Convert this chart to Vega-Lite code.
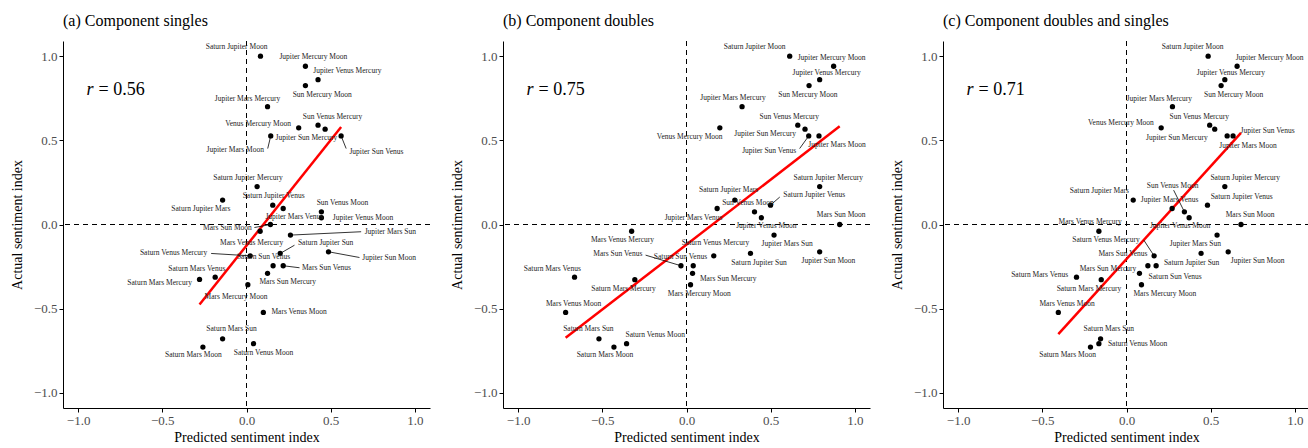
{
  "$schema": "https://vega.github.io/schema/vega-lite/v6.json",
  "background": "white",
  "padding": {"left": 10, "top": 12, "right": 0, "bottom": 0},
  "config": {
    "font": "Liberation Serif",
    "view": {"stroke": null},
    "concat": {"spacing": 19},
    "axis": {"grid": false, "domainColor": "black", "domainWidth": 1, "tickColor": "black", "tickWidth": 1, "tickSize": 4, "labelFont": "Liberation Serif", "labelFontSize": 13, "labelColor": "#4d4d4d", "labelPadding": 2, "titleFont": "Liberation Serif", "titleFontSize": 14, "titleFontWeight": "normal", "titleColor": "black"},
    "axisX": {"titlePadding": 3},
    "axisY": {"titlePadding": 9},
    "title": {"anchor": "start", "frame": "group", "font": "Liberation Serif", "fontSize": 16, "fontWeight": "normal", "color": "black", "offset": 12}
  },
  "datasets": {
    "stats": [{"p": "a", "rv": "= 0.56"}, {"p": "b", "rv": "= 0.75"}, {"p": "c", "rv": "= 0.71"}],
    "pts": [
      {"p": "a", "name": "Saturn Jupiter Moon", "pred": 0.083, "actual": 1.0, "lx": -0.059, "ly": 1.055},
      {"p": "a", "name": "Jupiter Mercury Moon", "pred": 0.35, "actual": 0.94, "lx": 0.397, "ly": 0.995},
      {"p": "a", "name": "Jupiter Venus Mercury", "pred": 0.425, "actual": 0.86, "lx": 0.599, "ly": 0.91},
      {"p": "a", "name": "Sun Mercury Moon", "pred": 0.35, "actual": 0.825, "lx": 0.45, "ly": 0.772},
      {"p": "a", "name": "Jupiter Mars Mercury", "pred": 0.125, "actual": 0.7, "lx": 0.006, "ly": 0.746},
      {"p": "a", "name": "Venus Mercury Moon", "pred": 0.31, "actual": 0.574, "lx": 0.069, "ly": 0.595},
      {"p": "a", "name": "Sun Venus Mercury", "pred": 0.425, "actual": 0.59, "lx": 0.511, "ly": 0.639},
      {"p": "a", "name": "Jupiter Sun Mercury", "pred": 0.467, "actual": 0.566, "lx": 0.356, "ly": 0.515},
      {"p": "a", "name": "Jupiter Mars Moon", "pred": 0.144, "actual": 0.526, "lx": -0.067, "ly": 0.445, "sx": 0.126, "sy": 0.451},
      {"p": "a", "name": "Jupiter Sun Venus", "pred": 0.562, "actual": 0.526, "lx": 0.772, "ly": 0.431, "sx": 0.592, "sy": 0.451},
      {"p": "a", "name": "Saturn Jupiter Mercury", "pred": 0.063, "actual": 0.225, "lx": 0.009, "ly": 0.277},
      {"p": "a", "name": "Saturn Jupiter Mars", "pred": -0.142, "actual": 0.145, "lx": -0.271, "ly": 0.093},
      {"p": "a", "name": "Saturn Jupiter Venus", "pred": 0.156, "actual": 0.115, "lx": 0.161, "ly": 0.168},
      {"p": "a", "name": "Jupiter Mars Venus", "pred": 0.218, "actual": 0.095, "lx": 0.284, "ly": 0.043},
      {"p": "a", "name": "Sun Venus Moon", "pred": 0.445, "actual": 0.075, "lx": 0.57, "ly": 0.129},
      {"p": "a", "name": "Jupiter Venus Moon", "pred": 0.445, "actual": 0.04, "lx": 0.692, "ly": 0.04},
      {"p": "a", "name": "Mars Sun Moon", "pred": 0.142, "actual": 0.0, "lx": -0.113, "ly": -0.02, "sx": 0.047, "sy": -0.018},
      {"p": "a", "name": "Mars Venus Mercury", "pred": 0.081, "actual": -0.04, "lx": 0.03, "ly": -0.109},
      {"p": "a", "name": "Jupiter Mars Sun", "pred": 0.261, "actual": -0.063, "lx": 0.854, "ly": -0.043, "sx": 0.681, "sy": -0.043},
      {"p": "a", "name": "Saturn Jupiter Sun", "pred": 0.2, "actual": -0.172, "lx": 0.47, "ly": -0.109, "sx": 0.285, "sy": -0.123},
      {"p": "a", "name": "Jupiter Sun Moon", "pred": 0.487, "actual": -0.162, "lx": 0.847, "ly": -0.198, "sx": 0.671, "sy": -0.196},
      {"p": "a", "name": "Saturn Venus Mercury", "pred": 0.022, "actual": -0.186, "lx": -0.433, "ly": -0.172, "sx": -0.21, "sy": -0.172},
      {"p": "a", "name": "Saturn Sun Venus", "pred": 0.158, "actual": -0.245, "lx": 0.101, "ly": -0.192},
      {"p": "a", "name": "Mars Sun Venus", "pred": 0.218, "actual": -0.245, "lx": 0.475, "ly": -0.257, "sx": 0.315, "sy": -0.257},
      {"p": "a", "name": "Mars Sun Mercury", "pred": 0.125, "actual": -0.29, "lx": 0.245, "ly": -0.34},
      {"p": "a", "name": "Mars Mercury Moon", "pred": 0.008, "actual": -0.358, "lx": -0.062, "ly": -0.429},
      {"p": "a", "name": "Mars Venus Moon", "pred": 0.1, "actual": -0.522, "lx": 0.312, "ly": -0.52},
      {"p": "a", "name": "Saturn Mars Sun", "pred": -0.142, "actual": -0.679, "lx": -0.089, "ly": -0.623},
      {"p": "a", "name": "Saturn Mars Moon", "pred": -0.259, "actual": -0.728, "lx": -0.316, "ly": -0.777},
      {"p": "a", "name": "Saturn Venus Moon", "pred": 0.042, "actual": -0.708, "lx": 0.101, "ly": -0.761},
      {"p": "a", "name": "Saturn Mars Venus", "pred": -0.186, "actual": -0.313, "lx": -0.295, "ly": -0.263},
      {"p": "a", "name": "Saturn Mars Mercury", "pred": -0.279, "actual": -0.326, "lx": -0.516, "ly": -0.346},

      {"p": "b", "name": "Saturn Jupiter Moon", "pred": 0.613, "actual": 1.0, "lx": 0.405, "ly": 1.055},
      {"p": "b", "name": "Jupiter Mercury Moon", "pred": 0.874, "actual": 0.94, "lx": 0.862, "ly": 0.989},
      {"p": "b", "name": "Jupiter Venus Mercury", "pred": 0.791, "actual": 0.86, "lx": 0.832, "ly": 0.9},
      {"p": "b", "name": "Sun Mercury Moon", "pred": 0.728, "actual": 0.825, "lx": 0.721, "ly": 0.772},
      {"p": "b", "name": "Jupiter Mars Mercury", "pred": 0.33, "actual": 0.7, "lx": 0.276, "ly": 0.752},
      {"p": "b", "name": "Venus Mercury Moon", "pred": 0.198, "actual": 0.574, "lx": 0.019, "ly": 0.52},
      {"p": "b", "name": "Sun Venus Mercury", "pred": 0.661, "actual": 0.59, "lx": 0.61, "ly": 0.639},
      {"p": "b", "name": "Jupiter Sun Mercury", "pred": 0.704, "actual": 0.566, "lx": 0.467, "ly": 0.536},
      {"p": "b", "name": "Jupiter Sun Venus", "pred": 0.726, "actual": 0.526, "lx": 0.491, "ly": 0.437, "sx": 0.672, "sy": 0.451},
      {"p": "b", "name": "Jupiter Mars Moon", "pred": 0.787, "actual": 0.526, "lx": 0.894, "ly": 0.471},
      {"p": "b", "name": "Saturn Jupiter Mercury", "pred": 0.791, "actual": 0.225, "lx": 0.842, "ly": 0.277},
      {"p": "b", "name": "Saturn Jupiter Mars", "pred": 0.287, "actual": 0.145, "lx": 0.25, "ly": 0.204},
      {"p": "b", "name": "Saturn Jupiter Venus", "pred": 0.499, "actual": 0.115, "lx": 0.759, "ly": 0.174, "sx": 0.554, "sy": 0.163},
      {"p": "b", "name": "Jupiter Mars Venus", "pred": 0.182, "actual": 0.095, "lx": 0.042, "ly": 0.036},
      {"p": "b", "name": "Sun Venus Moon", "pred": 0.404, "actual": 0.075, "lx": 0.365, "ly": 0.125},
      {"p": "b", "name": "Jupiter Venus Moon", "pred": 0.445, "actual": 0.04, "lx": 0.474, "ly": -0.008},
      {"p": "b", "name": "Mars Sun Moon", "pred": 0.91, "actual": 0.0, "lx": 0.919, "ly": 0.059},
      {"p": "b", "name": "Mars Venus Mercury", "pred": -0.326, "actual": -0.04, "lx": -0.38, "ly": -0.093},
      {"p": "b", "name": "Jupiter Mars Sun", "pred": 0.52, "actual": -0.063, "lx": 0.598, "ly": -0.113},
      {"p": "b", "name": "Jupiter Sun Moon", "pred": 0.791, "actual": -0.162, "lx": 0.843, "ly": -0.216},
      {"p": "b", "name": "Saturn Jupiter Sun", "pred": 0.38, "actual": -0.172, "lx": 0.431, "ly": -0.226},
      {"p": "b", "name": "Saturn Venus Mercury", "pred": 0.162, "actual": -0.186, "lx": 0.172, "ly": -0.109},
      {"p": "b", "name": "Mars Sun Venus", "pred": -0.033, "actual": -0.245, "lx": -0.408, "ly": -0.178, "sx": -0.243, "sy": -0.182},
      {"p": "b", "name": "Saturn Sun Venus", "pred": 0.04, "actual": -0.245, "lx": -0.036, "ly": -0.192},
      {"p": "b", "name": "Mars Sun Mercury", "pred": 0.036, "actual": -0.29, "lx": 0.248, "ly": -0.322},
      {"p": "b", "name": "Mars Mercury Moon", "pred": 0.024, "actual": -0.358, "lx": 0.076, "ly": -0.413},
      {"p": "b", "name": "Saturn Mars Venus", "pred": -0.665, "actual": -0.313, "lx": -0.797, "ly": -0.263},
      {"p": "b", "name": "Saturn Mars Mercury", "pred": -0.307, "actual": -0.328, "lx": -0.374, "ly": -0.382},
      {"p": "b", "name": "Mars Venus Moon", "pred": -0.718, "actual": -0.522, "lx": -0.671, "ly": -0.471},
      {"p": "b", "name": "Saturn Mars Sun", "pred": -0.52, "actual": -0.679, "lx": -0.583, "ly": -0.623},
      {"p": "b", "name": "Saturn Mars Moon", "pred": -0.431, "actual": -0.728, "lx": -0.484, "ly": -0.777},
      {"p": "b", "name": "Saturn Venus Moon", "pred": -0.356, "actual": -0.708, "lx": -0.186, "ly": -0.659},

      {"p": "c", "name": "Saturn Jupiter Moon", "pred": 0.485, "actual": 1.0, "lx": 0.393, "ly": 1.055},
      {"p": "c", "name": "Jupiter Mercury Moon", "pred": 0.657, "actual": 0.94, "lx": 0.85, "ly": 0.989},
      {"p": "c", "name": "Jupiter Venus Mercury", "pred": 0.584, "actual": 0.86, "lx": 0.62, "ly": 0.9},
      {"p": "c", "name": "Sun Mercury Moon", "pred": 0.562, "actual": 0.825, "lx": 0.636, "ly": 0.772},
      {"p": "c", "name": "Jupiter Mars Mercury", "pred": 0.273, "actual": 0.7, "lx": 0.195, "ly": 0.746},
      {"p": "c", "name": "Venus Mercury Moon", "pred": 0.206, "actual": 0.574, "lx": -0.033, "ly": 0.604},
      {"p": "c", "name": "Sun Venus Mercury", "pred": 0.494, "actual": 0.59, "lx": 0.432, "ly": 0.639},
      {"p": "c", "name": "Jupiter Sun Mercury", "pred": 0.524, "actual": 0.566, "lx": 0.299, "ly": 0.515},
      {"p": "c", "name": "Jupiter Sun Venus", "pred": 0.633, "actual": 0.526, "lx": 0.838, "ly": 0.558},
      {"p": "c", "name": "Jupiter Mars Moon", "pred": 0.598, "actual": 0.526, "lx": 0.722, "ly": 0.467},
      {"p": "c", "name": "Saturn Jupiter Mercury", "pred": 0.584, "actual": 0.225, "lx": 0.705, "ly": 0.277},
      {"p": "c", "name": "Saturn Jupiter Mars", "pred": 0.04, "actual": 0.145, "lx": -0.161, "ly": 0.2},
      {"p": "c", "name": "Saturn Jupiter Venus", "pred": 0.481, "actual": 0.115, "lx": 0.684, "ly": 0.164},
      {"p": "c", "name": "Jupiter Mars Venus", "pred": 0.271, "actual": 0.095, "lx": 0.256, "ly": 0.145},
      {"p": "c", "name": "Sun Venus Moon", "pred": 0.344, "actual": 0.075, "lx": 0.274, "ly": 0.23, "sx": 0.28, "sy": 0.204},
      {"p": "c", "name": "Jupiter Venus Moon", "pred": 0.372, "actual": 0.04, "lx": 0.318, "ly": -0.008},
      {"p": "c", "name": "Mars Sun Moon", "pred": 0.68, "actual": 0.0, "lx": 0.734, "ly": 0.055},
      {"p": "c", "name": "Mars Venus Mercury", "pred": -0.164, "actual": -0.04, "lx": -0.216, "ly": 0.012},
      {"p": "c", "name": "Jupiter Mars Sun", "pred": 0.538, "actual": -0.063, "lx": 0.409, "ly": -0.113},
      {"p": "c", "name": "Jupiter Sun Moon", "pred": 0.604, "actual": -0.162, "lx": 0.779, "ly": -0.216},
      {"p": "c", "name": "Saturn Jupiter Sun", "pred": 0.443, "actual": -0.172, "lx": 0.387, "ly": -0.226},
      {"p": "c", "name": "Saturn Venus Mercury", "pred": 0.164, "actual": -0.186, "lx": -0.122, "ly": -0.093, "sx": 0.103, "sy": -0.093},
      {"p": "c", "name": "Mars Sun Venus", "pred": 0.127, "actual": -0.245, "lx": -0.021, "ly": -0.178},
      {"p": "c", "name": "Saturn Sun Venus", "pred": 0.176, "actual": -0.245, "lx": 0.289, "ly": -0.313},
      {"p": "c", "name": "Mars Sun Mercury", "pred": 0.077, "actual": -0.29, "lx": -0.11, "ly": -0.267},
      {"p": "c", "name": "Mars Mercury Moon", "pred": 0.089, "actual": -0.358, "lx": 0.228, "ly": -0.413},
      {"p": "c", "name": "Saturn Mars Venus", "pred": -0.297, "actual": -0.313, "lx": -0.516, "ly": -0.299},
      {"p": "c", "name": "Saturn Mars Mercury", "pred": -0.15, "actual": -0.328, "lx": -0.223, "ly": -0.382},
      {"p": "c", "name": "Mars Venus Moon", "pred": -0.405, "actual": -0.522, "lx": -0.353, "ly": -0.471},
      {"p": "c", "name": "Saturn Mars Sun", "pred": -0.154, "actual": -0.679, "lx": -0.105, "ly": -0.623},
      {"p": "c", "name": "Saturn Mars Moon", "pred": -0.214, "actual": -0.728, "lx": -0.35, "ly": -0.777},
      {"p": "c", "name": "Saturn Venus Moon", "pred": -0.164, "actual": -0.708, "lx": 0.066, "ly": -0.712}
    ]
  },
  "hconcat": [
    {
      "width": 367, "height": 367,
      "title": {"text": "(a) Component singles"},
      "layer": [
        {"data": {"values": [{}]}, "mark": {"type": "rule", "color": "black", "strokeWidth": 1, "strokeDash": [5, 4]}, "encoding": {"x": {"datum": 0, "type": "quantitative"}}},
        {"data": {"values": [{}]}, "mark": {"type": "rule", "color": "black", "strokeWidth": 1, "strokeDash": [5, 4]}, "encoding": {"y": {"datum": 0, "type": "quantitative"}}},
        {"data": {"name": "pts"}, "transform": [{"filter": "datum.p === 'a'"}, {"regression": "actual", "on": "pred"}], "mark": {"type": "line", "color": "#ff0000", "strokeWidth": 2.5}, "encoding": {"x": {"field": "pred", "type": "quantitative"}, "y": {"field": "actual", "type": "quantitative"}}},
        {"data": {"name": "pts"}, "transform": [{"filter": "datum.p === 'a' && isValid(datum.sx)"}], "mark": {"type": "rule", "color": "black", "strokeWidth": 0.8}, "encoding": {"x": {"field": "pred", "type": "quantitative"}, "y": {"field": "actual", "type": "quantitative"}, "x2": {"field": "sx"}, "y2": {"field": "sy"}}},
        {"data": {"name": "pts"}, "transform": [{"filter": "datum.p === 'a'"}], "mark": {"type": "circle", "color": "black", "opacity": 1, "size": 28}, "encoding": {
          "x": {"field": "pred", "type": "quantitative", "scale": {"domain": [-1.09, 1.09], "nice": false, "zero": false}, "axis": {"title": "Predicted sentiment index", "values": [-1, -0.5, 0, 0.5, 1], "format": ".1f"}},
          "y": {"field": "actual", "type": "quantitative", "scale": {"domain": [-1.09, 1.09], "nice": false, "zero": false}, "axis": {"title": "Actual sentiment index", "values": [-1, -0.5, 0, 0.5, 1], "format": ".1f"}}}},
        {"data": {"name": "pts"}, "transform": [{"filter": "datum.p === 'a'"}], "mark": {"type": "text", "fontSize": 7.5, "color": "#222222", "font": "Liberation Serif"}, "encoding": {"x": {"field": "lx", "type": "quantitative"}, "y": {"field": "ly", "type": "quantitative"}, "text": {"field": "name"}}},
        {"data": {"name": "stats"}, "transform": [{"filter": "datum.p === 'a'"}], "mark": {"type": "text", "align": "left", "fontSize": 18, "fontStyle": "italic", "color": "black", "font": "Liberation Serif"}, "encoding": {"x": {"datum": -0.95, "type": "quantitative"}, "y": {"datum": 0.8, "type": "quantitative"}, "text": {"value": "r"}}},
        {"data": {"name": "stats"}, "transform": [{"filter": "datum.p === 'a'"}], "mark": {"type": "text", "align": "left", "dx": 12, "fontSize": 18, "color": "black", "font": "Liberation Serif"}, "encoding": {"x": {"datum": -0.95, "type": "quantitative"}, "y": {"datum": 0.8, "type": "quantitative"}, "text": {"field": "rv"}}}
      ]
    },
    {
      "width": 367, "height": 367,
      "title": {"text": "(b) Component doubles"},
      "layer": [
        {"data": {"values": [{}]}, "mark": {"type": "rule", "color": "black", "strokeWidth": 1, "strokeDash": [5, 4]}, "encoding": {"x": {"datum": 0, "type": "quantitative"}}},
        {"data": {"values": [{}]}, "mark": {"type": "rule", "color": "black", "strokeWidth": 1, "strokeDash": [5, 4]}, "encoding": {"y": {"datum": 0, "type": "quantitative"}}},
        {"data": {"name": "pts"}, "transform": [{"filter": "datum.p === 'b'"}, {"regression": "actual", "on": "pred"}], "mark": {"type": "line", "color": "#ff0000", "strokeWidth": 2.5}, "encoding": {"x": {"field": "pred", "type": "quantitative"}, "y": {"field": "actual", "type": "quantitative"}}},
        {"data": {"name": "pts"}, "transform": [{"filter": "datum.p === 'b' && isValid(datum.sx)"}], "mark": {"type": "rule", "color": "black", "strokeWidth": 0.8}, "encoding": {"x": {"field": "pred", "type": "quantitative"}, "y": {"field": "actual", "type": "quantitative"}, "x2": {"field": "sx"}, "y2": {"field": "sy"}}},
        {"data": {"name": "pts"}, "transform": [{"filter": "datum.p === 'b'"}], "mark": {"type": "circle", "color": "black", "opacity": 1, "size": 28}, "encoding": {
          "x": {"field": "pred", "type": "quantitative", "scale": {"domain": [-1.09, 1.09], "nice": false, "zero": false}, "axis": {"title": "Predicted sentiment index", "values": [-1, -0.5, 0, 0.5, 1], "format": ".1f"}},
          "y": {"field": "actual", "type": "quantitative", "scale": {"domain": [-1.09, 1.09], "nice": false, "zero": false}, "axis": {"title": "Actual sentiment index", "values": [-1, -0.5, 0, 0.5, 1], "format": ".1f"}}}},
        {"data": {"name": "pts"}, "transform": [{"filter": "datum.p === 'b'"}], "mark": {"type": "text", "fontSize": 7.5, "color": "#222222", "font": "Liberation Serif"}, "encoding": {"x": {"field": "lx", "type": "quantitative"}, "y": {"field": "ly", "type": "quantitative"}, "text": {"field": "name"}}},
        {"data": {"name": "stats"}, "transform": [{"filter": "datum.p === 'b'"}], "mark": {"type": "text", "align": "left", "fontSize": 18, "fontStyle": "italic", "color": "black", "font": "Liberation Serif"}, "encoding": {"x": {"datum": -0.95, "type": "quantitative"}, "y": {"datum": 0.8, "type": "quantitative"}, "text": {"value": "r"}}},
        {"data": {"name": "stats"}, "transform": [{"filter": "datum.p === 'b'"}], "mark": {"type": "text", "align": "left", "dx": 12, "fontSize": 18, "color": "black", "font": "Liberation Serif"}, "encoding": {"x": {"datum": -0.95, "type": "quantitative"}, "y": {"datum": 0.8, "type": "quantitative"}, "text": {"field": "rv"}}}
      ]
    },
    {
      "width": 367, "height": 367,
      "title": {"text": "(c) Component doubles and singles"},
      "layer": [
        {"data": {"values": [{}]}, "mark": {"type": "rule", "color": "black", "strokeWidth": 1, "strokeDash": [5, 4]}, "encoding": {"x": {"datum": 0, "type": "quantitative"}}},
        {"data": {"values": [{}]}, "mark": {"type": "rule", "color": "black", "strokeWidth": 1, "strokeDash": [5, 4]}, "encoding": {"y": {"datum": 0, "type": "quantitative"}}},
        {"data": {"name": "pts"}, "transform": [{"filter": "datum.p === 'c'"}, {"regression": "actual", "on": "pred"}], "mark": {"type": "line", "color": "#ff0000", "strokeWidth": 2.5}, "encoding": {"x": {"field": "pred", "type": "quantitative"}, "y": {"field": "actual", "type": "quantitative"}}},
        {"data": {"name": "pts"}, "transform": [{"filter": "datum.p === 'c' && isValid(datum.sx)"}], "mark": {"type": "rule", "color": "black", "strokeWidth": 0.8}, "encoding": {"x": {"field": "pred", "type": "quantitative"}, "y": {"field": "actual", "type": "quantitative"}, "x2": {"field": "sx"}, "y2": {"field": "sy"}}},
        {"data": {"name": "pts"}, "transform": [{"filter": "datum.p === 'c'"}], "mark": {"type": "circle", "color": "black", "opacity": 1, "size": 28}, "encoding": {
          "x": {"field": "pred", "type": "quantitative", "scale": {"domain": [-1.09, 1.09], "nice": false, "zero": false}, "axis": {"title": "Predicted sentiment index", "values": [-1, -0.5, 0, 0.5, 1], "format": ".1f"}},
          "y": {"field": "actual", "type": "quantitative", "scale": {"domain": [-1.09, 1.09], "nice": false, "zero": false}, "axis": {"title": "Actual sentiment index", "values": [-1, -0.5, 0, 0.5, 1], "format": ".1f"}}}},
        {"data": {"name": "pts"}, "transform": [{"filter": "datum.p === 'c'"}], "mark": {"type": "text", "fontSize": 7.5, "color": "#222222", "font": "Liberation Serif"}, "encoding": {"x": {"field": "lx", "type": "quantitative"}, "y": {"field": "ly", "type": "quantitative"}, "text": {"field": "name"}}},
        {"data": {"name": "stats"}, "transform": [{"filter": "datum.p === 'c'"}], "mark": {"type": "text", "align": "left", "fontSize": 18, "fontStyle": "italic", "color": "black", "font": "Liberation Serif"}, "encoding": {"x": {"datum": -0.95, "type": "quantitative"}, "y": {"datum": 0.8, "type": "quantitative"}, "text": {"value": "r"}}},
        {"data": {"name": "stats"}, "transform": [{"filter": "datum.p === 'c'"}], "mark": {"type": "text", "align": "left", "dx": 12, "fontSize": 18, "color": "black", "font": "Liberation Serif"}, "encoding": {"x": {"datum": -0.95, "type": "quantitative"}, "y": {"datum": 0.8, "type": "quantitative"}, "text": {"field": "rv"}}}
      ]
    }
  ]
}
